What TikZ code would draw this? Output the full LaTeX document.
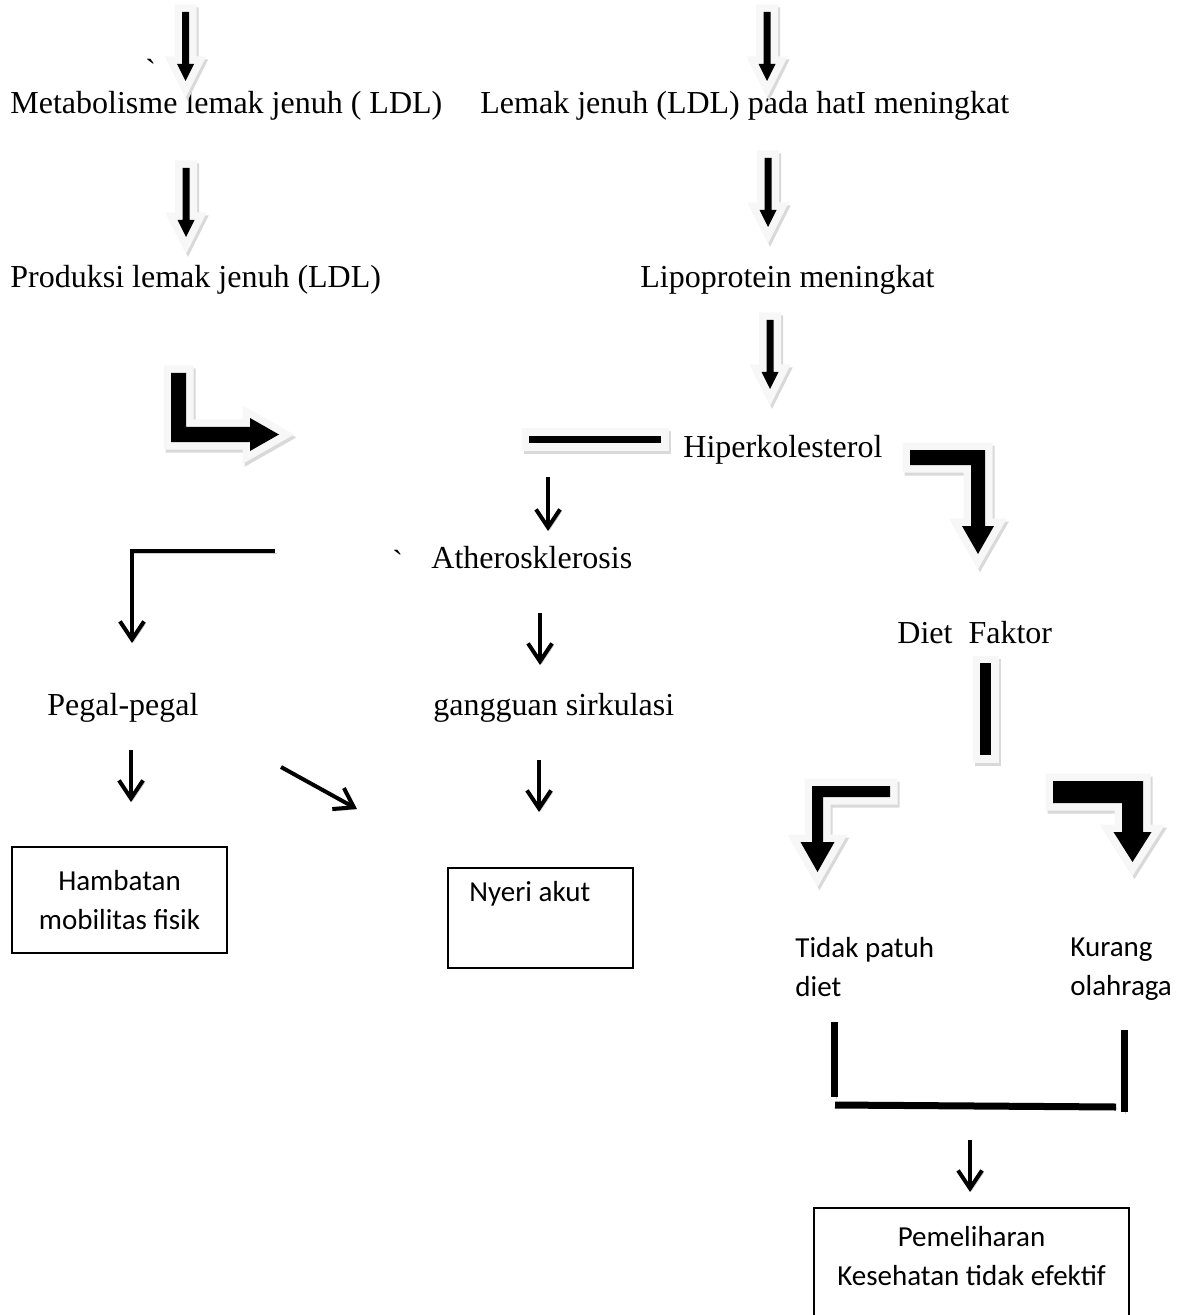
\documentclass[tikz,border=0pt]{standalone}
\usepackage{fontspec}
\setmainfont{Liberation Serif}
\newfontfamily\calibri{Carlito}
\usetikzlibrary{arrows.meta,positioning,calc}

\begin{document}
\begin{tikzpicture}[
    x=0.5pt, y=-0.5pt,
    >={Straight Barb[length=9pt,width=12pt]},
    every node/.style={inner sep=0pt},
    txt/.style={anchor=base west, font=\fontsize{16pt}{19.5pt}\selectfont},
    lbl/.style={font=\calibri\fontsize{14.5pt}{19.5pt}\selectfont, align=left},
    box/.style={draw, line width=0.75pt},
    flow/.style={->, line width=2pt, preaction={draw=gray!40, transform canvas={xshift=0.8pt,yshift=-1pt}}},
    bar/.style={line width=3.5pt, preaction={draw=gray!40, transform canvas={xshift=0.8pt,yshift=-1pt}}},
    blk/.style={fill=black,
        preaction={draw=gray!30, fill=gray!30, line width=7.5pt, line join=miter, transform canvas={xshift=1pt,yshift=-1.5pt}},
        preaction={draw=gray!6, fill=gray!6, line width=7.5pt, line join=miter}}
]
\useasboundingbox (0,0) rectangle (1190,1315);
\clip (0,0) rectangle (1190,1315);

% --- Left column texts ---
\node[txt] (tick1) at (145,82) {\textasciigrave};
\node[txt] (metab) at (10,114) {Metabolisme lemak jenuh ( LDL)};
\node[txt] (produksi) at (10,288) {Produksi lemak jenuh (LDL)};
\node[txt] (pegal) at (47,715) {Pegal-pegal};

% --- Middle / right texts ---
\node[txt] (hati) at (480,114) {Lemak jenuh (LDL) pada hatI meningkat};
\node[txt] (lipo) at (640,288) {Lipoprotein meningkat};
\node[txt] (hiper) at (683,458) {Hiperkolesterol};
\node[txt] (tick2) at (392,572) {\textasciigrave};
\node[txt] (athero) at (431,568) {Atherosklerosis};
\node[txt] (sirkulasi) at (433,715) {gangguan sirkulasi};
\node[txt] (diet) at (897,643) {Diet\ \ Faktor};
\node[lbl, anchor=north west] (patuh) at (795,937) {Tidak patuh\\diet};
\node[lbl, anchor=north west] (olahraga) at (1070,937) {Kurang\\olahraga};

% --- Diagnosis boxes ---
\node[box, lbl, align=center, minimum width=107.5pt, minimum height=53pt] (hambatan) at (119.5,900) {Hambatan\\mobilitas fisik};
\node[box, minimum width=92.5pt, minimum height=50pt] (nyeri) at (540.5,918) {};
\node[lbl, anchor=base west] (nyeritxt) at (469,901) {Nyeri akut};
\node[box, minimum width=157.5pt, minimum height=70pt, anchor=north] (pemeliharaan) at (971.5,1207) {};
\node[lbl, align=center, anchor=north] (pemtxt) at (971.5,1226) {Pemeliharan\\Kesehatan tidak efektif};

% --- Block arrows ---
\path[blk] (182,12) -- (189,12) -- (189,64) -- (194,64) -- (185.5,81) -- (177,64) -- (182,64) -- cycle;
\path[blk] (763.5,12) -- (770.5,12) -- (770.5,64) -- (775.5,64) -- (767,81) -- (758.5,64) -- (763.5,64) -- cycle;
\path[blk] (182.5,168) -- (189.5,168) -- (189.5,220) -- (194.5,220) -- (186,237) -- (177.5,220) -- (182.5,220) -- cycle;
\path[blk] (764.5,158) -- (771.5,158) -- (771.5,210) -- (776.5,210) -- (768,227) -- (759.5,210) -- (764.5,210) -- cycle;
\path[blk] (766.5,320) -- (773.5,320) -- (773.5,372) -- (778.5,372) -- (770,389) -- (761.5,372) -- (766.5,372) -- cycle;
\path[blk] (171,373) -- (186,373) -- (186,427) -- (250,427) -- (250,418) -- (279,434.5) -- (250,451) -- (250,442) -- (171,442) -- cycle;
\path[blk] (529,436) rectangle (661,443);
\path[blk] (910,450) -- (985,450) -- (985,526) -- (994,526) -- (978,554) -- (962,526) -- (971,526) -- (971,465) -- (910,465) -- cycle;
\path[blk] (980,663) rectangle (991,755);
\path[blk] (890,786) -- (812,786) -- (812,842) -- (800.5,842) -- (817.5,872) -- (834.5,842) -- (823,842) -- (823,797) -- (890,797) -- cycle;
\path[blk] (1053,781) -- (1143,781) -- (1143,832) -- (1151.5,832) -- (1132.5,862) -- (1113.5,832) -- (1122,832) -- (1122,803) -- (1053,803) -- cycle;

% --- Thin arrows ---
\coordinate (h1) at (548,477);   \coordinate (h2) at (548,531);
\coordinate (l1) at (275,551);   \coordinate (l2) at (132,643);
\coordinate (a1) at (540,613);   \coordinate (a2) at (540,665);
\coordinate (p1) at (131,750);   \coordinate (p2) at (131,802);
\coordinate (d1) at (281,767);   \coordinate (d2) at (357,809);
\coordinate (g1) at (539,760);   \coordinate (g2) at (539,812);
\coordinate (k1) at (970,1140);  \coordinate (k2) at (970,1192);
\draw[flow] (h1) -- (h2);
\draw[flow] (l1) -| (l2);
\draw[flow] (a1) -- (a2);
\draw[flow] (p1) -- (p2);
\draw[flow] (d1) -- (d2);
\draw[flow] (g1) -- (g2);
\draw[flow] (k1) -- (k2);

% --- Joining bracket ---
\coordinate (b1) at (834.5,1022); \coordinate (b2) at (834.5,1097);
\coordinate (b3) at (835,1105);   \coordinate (b4) at (1116,1107);
\coordinate (b5) at (1124,1030);  \coordinate (b6) at (1124,1112);
\draw[bar] (b1) -- (b2);
\draw[bar] (b3) -- (b4);
\draw[bar] (b5) -- (b6);
\end{tikzpicture}
\end{document}
